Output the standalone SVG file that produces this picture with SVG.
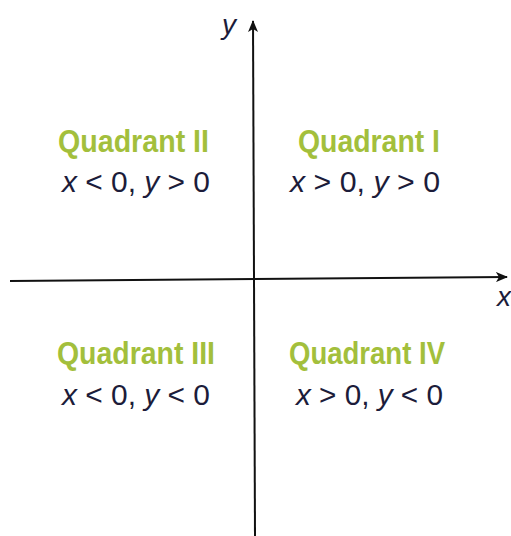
<svg xmlns="http://www.w3.org/2000/svg" width="511" height="536" viewBox="0 0 511 536">
<style>
.ttl{font-family:"Liberation Sans",Arial,sans-serif;font-weight:bold;font-size:32px;fill:#a3bf3c}
.cnd{font-family:"Liberation Sans",Arial,sans-serif;font-size:29px;fill:#1c1c3a}
.it{font-style:italic}
.ax{stroke:#111;stroke-width:2;fill:none}
.lbl{font-family:"Liberation Sans",Arial,sans-serif;font-style:italic;font-size:28px;fill:#1c1c3a}
</style>
<defs>
<marker id="ah" viewBox="0 0 12 10" refX="11" refY="5" markerWidth="12" markerHeight="10" markerUnits="userSpaceOnUse" orient="auto">
<path d="M0,0 L12,5 L0,10 L3,5 Z" fill="#111"/>
</marker>
</defs>
<rect width="511" height="536" fill="#fff"/>
<g id="connectors">
<line class="ax" x1="10" y1="281" x2="507" y2="277" marker-end="url(#ah)"/>
<line class="ax" x1="255" y1="536" x2="253" y2="21" marker-end="url(#ah)"/>
</g>
<g id="axis-labels">
<text class="lbl" x="222" y="34">y</text>
<text class="lbl" x="497" y="306">x</text>
</g>
<g id="q1">
<text class="ttl" x="298" y="152" textLength="142" lengthAdjust="spacingAndGlyphs">Quadrant I</text>
<text class="cnd" x="290" y="192" textLength="150" lengthAdjust="spacingAndGlyphs"><tspan class="it">x</tspan> &gt; 0, <tspan class="it">y</tspan> &gt; 0</text>
</g>
<g id="q2">
<text class="ttl" x="58" y="152" textLength="151" lengthAdjust="spacingAndGlyphs">Quadrant II</text>
<text class="cnd" x="62" y="192" textLength="148" lengthAdjust="spacingAndGlyphs"><tspan class="it">x</tspan> &lt; 0, <tspan class="it">y</tspan> &gt; 0</text>
</g>
<g id="q3">
<text class="ttl" x="57" y="364" textLength="158" lengthAdjust="spacingAndGlyphs">Quadrant III</text>
<text class="cnd" x="62" y="405" textLength="148" lengthAdjust="spacingAndGlyphs"><tspan class="it">x</tspan> &lt; 0, <tspan class="it">y</tspan> &lt; 0</text>
</g>
<g id="q4">
<text class="ttl" x="289" y="364" textLength="156" lengthAdjust="spacingAndGlyphs">Quadrant IV</text>
<text class="cnd" x="296" y="405" textLength="147" lengthAdjust="spacingAndGlyphs"><tspan class="it">x</tspan> &gt; 0, <tspan class="it">y</tspan> &lt; 0</text>
</g>
</svg>
